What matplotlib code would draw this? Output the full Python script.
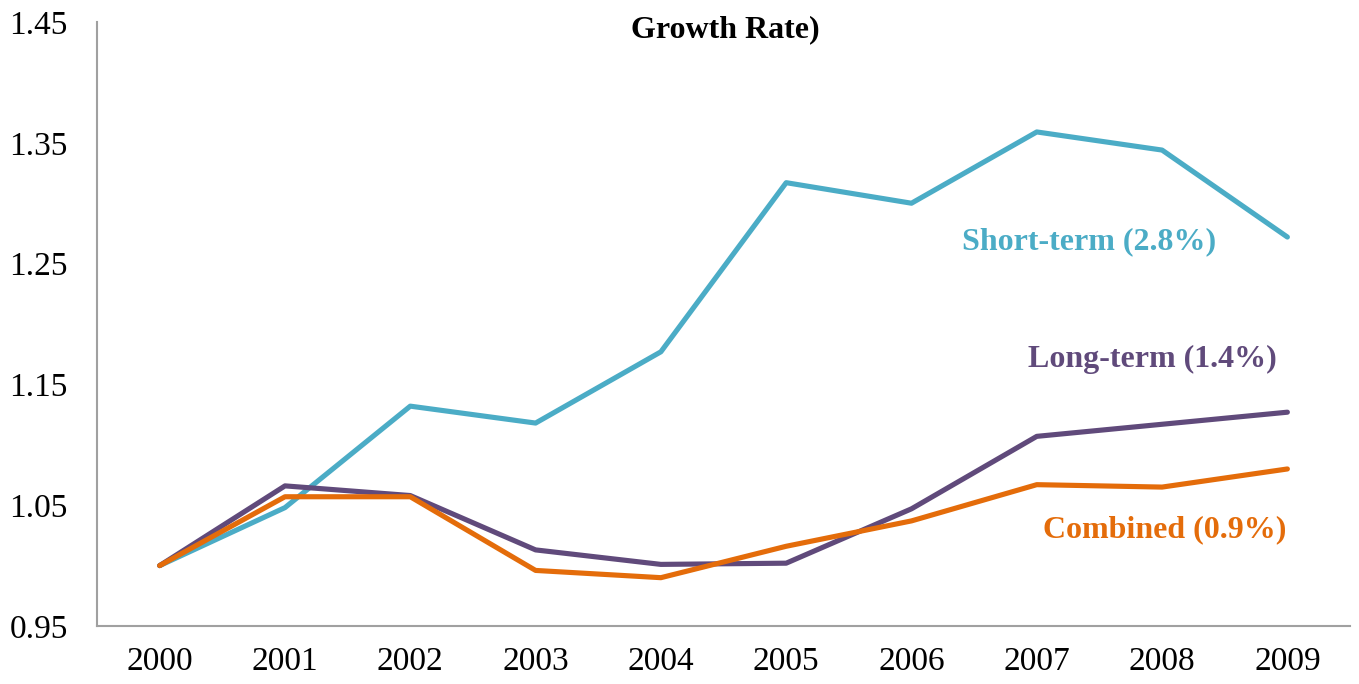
import numpy as np
import matplotlib.pyplot as plt

# Data
years = ['2000', '2001', '2002', '2003', '2004', '2005', '2006', '2007', '2008', '2009']
short_term = [1.000, 1.048, 1.132, 1.118, 1.177, 1.317, 1.300, 1.359, 1.344, 1.272]
long_term = [1.000, 1.066, 1.058, 1.013, 1.001, 1.002, 1.047, 1.107, 1.117, 1.127]
combined = [1.000, 1.057, 1.057, 0.996, 0.990, 1.016, 1.037, 1.067, 1.065, 1.080]
yticks = [0.95, 1.05, 1.15, 1.25, 1.35, 1.45]

plt.rcParams['font.family'] = ['Liberation Serif', 'DejaVu Serif']

fig = plt.figure(figsize=(13.59, 6.84), dpi=100)
ax = fig.add_axes([0.0714, 0.0848, 0.922, 0.883])

x = np.arange(len(years))
ax.plot(x, short_term, color='#4BACC6', lw=3.7, solid_capstyle='round')
ax.plot(x, long_term, color='#604A7B', lw=3.7, solid_capstyle='round')
ax.plot(x, combined, color='#E46C0A', lw=3.7, solid_capstyle='round')

# Series labels
ax.text(7.42, 1.268, 'Short-term (2.8%)', color='#4BACC6', fontsize=23,
        fontweight='bold', ha='center', va='center')
ax.text(7.92, 1.171, 'Long-term (1.4%)', color='#604A7B', fontsize=23,
        fontweight='bold', ha='center', va='center')
ax.text(8.02, 1.030, 'Combined (0.9%)', color='#E46C0A', fontsize=23,
        fontweight='bold', ha='center', va='center')

ax.set_xlim(-0.5, len(years) - 0.5)
ax.set_ylim(0.95, 1.45)
ax.set_xticks(x)
ax.set_xticklabels(years)
ax.set_yticks(yticks)
ax.set_yticklabels([f'{v:.2f}' for v in yticks])
ax.tick_params(axis='both', length=0, labelsize=24, colors='black')
ax.tick_params(axis='x', pad=15)
ax.tick_params(axis='y', pad=21)
for side in ['top', 'right']:
    ax.spines[side].set_visible(False)
for side in ['left', 'bottom']:
    ax.spines[side].set_color('#A0A0A0')
    ax.spines[side].set_linewidth(1.5)

fig.text(0.5335, 0.956, 'Growth Rate)', fontsize=23, fontweight='bold',
         ha='center', va='center')

fig.savefig('out.png', dpi=100)
